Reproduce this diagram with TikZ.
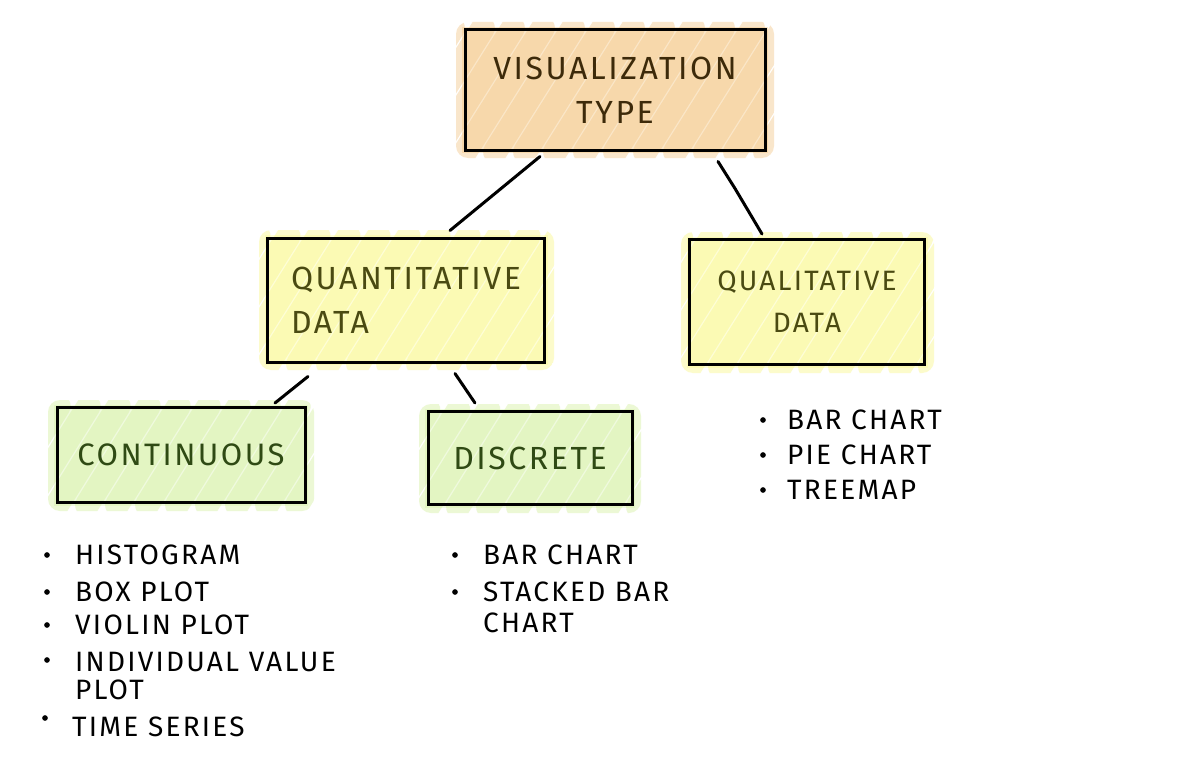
\documentclass[tikz,border=0pt]{standalone}
\usepackage{fontspec}
\setmainfont{Fira Sans}[LetterSpace=8]
\definecolor{orL}{HTML}{FBE7C9}
\definecolor{orD}{HTML}{F2C27F}
\definecolor{yeL}{HTML}{FEFED8}
\definecolor{yeD}{HTML}{F8F57E}
\definecolor{grL}{HTML}{F0FADF}
\definecolor{grD}{HTML}{D0EF98}
\definecolor{orT}{HTML}{3D2A0A}
\definecolor{yeT}{HTML}{4A4A12}
\definecolor{grT}{HTML}{2F4A14}
\newcommand\scrib[6]{%
  \fill[#5] (#1-3,#2-3) rectangle (#3+3,#4+3);
  \begin{scope}
    \clip[rounded corners=12pt] (#1-9,#2-8) rectangle (#3+9,#4+8);
    \pgfmathtruncatemacro\nstr{(#3-#1+120)/30}
    \foreach \k in {0,...,\nstr}{
      \draw[#6,line width=24pt,line cap=round,opacity=0.4]
        ({#1-90+\k*30},{#4+2}) -- ({#1-90+\k*30+0.65*(#4-#2)},{#2-2});
    }
  \end{scope}}
\begin{document}
\begin{tikzpicture}[x=1pt,y=-1pt,
  box/.style={draw=black,line width=3pt,font=\fontsize{32}{44}\selectfont,inner sep=0pt},
  item/.style={anchor=west,font=\fontsize{28}{32}\selectfont,text=black,inner sep=0pt},
  dot/.style={circle,fill=black,inner sep=2pt},
  link/.style={line width=3pt,line cap=round,line join=round}]
\useasboundingbox (0,0) rectangle (1200,776);
\fill[white] (0,0) rectangle (1200,776);
% scribble fills
\scrib{465}{30}{765}{150}{orL}{orD}
\scrib{268}{238}{545}{362}{yeL}{yeD}
\scrib{690}{240}{925}{365}{yeL}{yeD}
\scrib{57}{408}{305}{503}{grL}{grD}
\scrib{428}{412}{632}{505}{grL}{grD}
% boxes
\node[box,minimum width=300pt,minimum height=120pt,align=center,text=orT] (vis) at (615,90) {VISUALIZATION\\TYPE};
\node[box,minimum width=277pt,minimum height=124pt,align=left,text=yeT] (quant) at (406,300) {QUANTITATIVE\\DATA};
\node[box,minimum width=235pt,minimum height=125pt,align=center,text=yeT,font=\fontsize{28}{42}\selectfont] (qual) at (807,302) {QUALITATIVE\\DATA};
\node[box,minimum width=248pt,minimum height=95pt,text=grT,font=\fontsize{31}{40}\selectfont] (cont) at (181,455) {CONTINUOUS};
\node[box,minimum width=204pt,minimum height=93pt,text=grT,font=\fontsize{32}{40}\selectfont] (disc) at (530,458) {DISCRETE};
% connectors
\draw[link] ([xshift=-75pt,yshift=-5pt]vis.south) -- ([xshift=44pt,yshift=6pt]quant.north);
\draw[link] ([xshift=103pt,yshift=-10pt]vis.south) -- ++(17,27) -- ([xshift=-45pt,yshift=4pt]qual.north);
\draw[link] ([xshift=-98pt,yshift=-13pt]quant.south) -- ([xshift=94pt,yshift=3pt]cont.north);
\draw[link] ([xshift=49pt,yshift=-10pt]quant.south) -- ([xshift=-55pt,yshift=7pt]disc.north);
% continuous list
\node[dot] (c1b) at (47,555) {}; \node[item] (c1) at (75,555) {HISTOGRAM};
\node[dot] (c2b) at (47,592) {}; \node[item] (c2) at (75,592) {BOX PLOT};
\node[dot] (c3b) at (47,625) {}; \node[item] (c3) at (75,625) {VIOLIN PLOT};
\node[dot] (c4b) at (47,660) {}; \node[item] (c4) at (75,662) {INDIVIDUAL VALUE};
\node[item] (c4x) at (75,690) {PLOT};
\node[dot] (c5b) at (45,718) {}; \node[item] (c5) at (72,727) {TIME SERIES};
% discrete list
\node[dot] (d1b) at (455,555) {}; \node[item] (d1) at (483,555) {BAR CHART};
\node[dot] (d2b) at (455,592) {}; \node[item] (d2) at (483,592) {STACKED BAR};
\node[item] (d2x) at (483,623) {CHART};
% qualitative list
\node[dot] (q1b) at (763,420) {}; \node[item] (q1) at (787,420) {BAR CHART};
\node[dot] (q2b) at (763,455) {}; \node[item] (q2) at (787,455) {PIE CHART};
\node[dot] (q3b) at (763,490) {}; \node[item] (q3) at (787,490) {TREEMAP};
\end{tikzpicture}
\end{document}
